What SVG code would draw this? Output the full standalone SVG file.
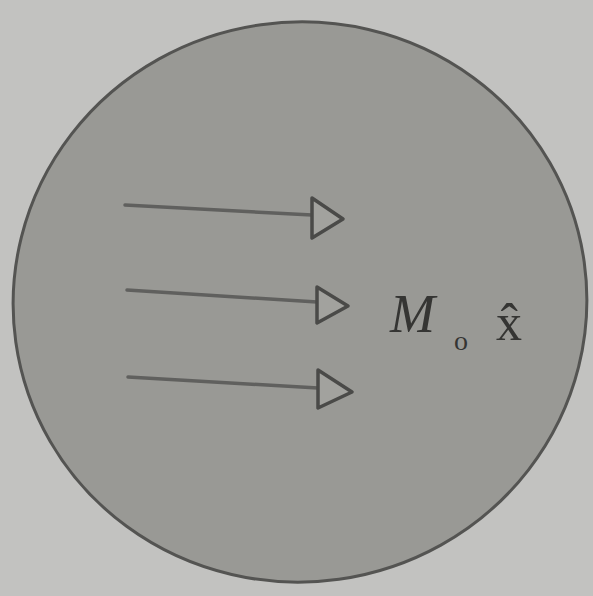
<svg xmlns="http://www.w3.org/2000/svg" width="593" height="596" viewBox="0 0 593 596">
<defs>
<style>
.arrow{stroke:#60605e;stroke-width:3.5;fill:none;stroke-linecap:round}
.head{stroke:#4a4a48;stroke-width:3.5;fill:#a2a29e;stroke-linejoin:round}
.lbl{font-family:"Liberation Serif","DejaVu Serif",serif;fill:#353533}
</style>
</defs>
<rect width="593" height="596" fill="#c2c2c0"/>
<g id="body">
<ellipse cx="300" cy="302" rx="287" ry="280" transform="rotate(-8 300 302)" fill="#999995" stroke="#545452" stroke-width="3"/>
</g>
<g id="connectors">
<line class="arrow" x1="125" y1="205" x2="312" y2="215"/>
<polygon class="head" points="312,198 343,219 312,238"/>
<line class="arrow" x1="127" y1="290" x2="317" y2="302"/>
<polygon class="head" points="317,287 348,306 317,323"/>
<line class="arrow" x1="128" y1="377" x2="318" y2="388"/>
<polygon class="head" points="318,370 352,392 318,408"/>
</g>
<g id="label">
<text class="lbl" x="390" y="332" font-size="54" font-style="italic">M</text>
<text class="lbl" x="454" y="350" font-size="28">o</text>
<text class="lbl" x="496" y="340" font-size="52">x̂</text>
</g>
</svg>
